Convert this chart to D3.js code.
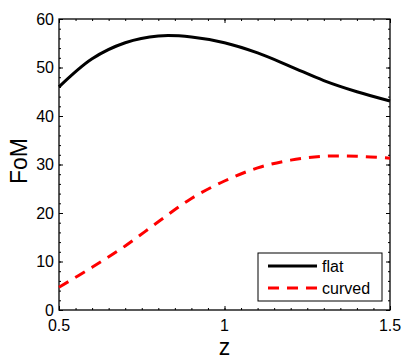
<!DOCTYPE html>
<html>
<head>
<meta charset="utf-8">
<script src="https://cdn.jsdelivr.net/npm/d3@7"></script>
<style>
  body { margin: 0; background: #fff; }
  svg text { font-family: "Liberation Sans", Arial, sans-serif; }
</style>
</head>
<body>
<div id="chart-area"></div>
<script>
// data
var zValues = [0.5, 0.6, 0.7, 0.8, 0.9, 1.0, 1.1, 1.2, 1.3, 1.4, 1.5];
var flatFoM = [46.0, 51.8, 55.1, 56.5, 56.3, 55.1, 53.0, 50.2, 47.3, 45.0, 43.1];
var curvedFoM = [4.7, 8.8, 13.2, 18.2, 23.0, 26.6, 29.3, 30.9, 31.7, 31.7, 31.3];
var seriesNames = ["flat", "curved"];
var xTicks = [0.5, 1, 1.5];
var yTicks = [0, 10, 20, 30, 40, 50, 60];

var margin = {top: 19, right: 19, bottom: 51, left: 59};
var width = 409 - margin.left - margin.right,
    height = 361 - margin.top - margin.bottom;

var x = d3.scaleLinear().domain([0.5, 1.5]).range([0, width]);
var y = d3.scaleLinear().domain([0, 60]).range([height, 0]);

var svg = d3.select("#chart-area").append("svg")
    .attr("width", 409)
    .attr("height", 361);

var g = svg.append("g")
    .attr("transform", "translate(" + margin.left + "," + margin.top + ")");

// minor ticks every 0.05 / 2, major at labelled values, on all four sides
var xMinor = d3.range(0.5, 1.5001, 0.05);
var yMinor = d3.range(0, 60.001, 2);

function tickLines(axis, vals, len) {
  return axis.tickValues(vals).tickSize(-len).tickFormat("");
}

var bottom = g.append("g").attr("transform", "translate(0," + height + ")");
bottom.call(tickLines(d3.axisBottom(x), xMinor, 2));
bottom.append("g").call(tickLines(d3.axisBottom(x), xTicks, 4));
var top_ = g.append("g");
top_.call(tickLines(d3.axisTop(x), xMinor, 2));
top_.append("g").call(tickLines(d3.axisTop(x), xTicks, 4));
var left = g.append("g");
left.call(tickLines(d3.axisLeft(y), yMinor, 2));
left.append("g").call(tickLines(d3.axisLeft(y), yTicks, 4));
var right = g.append("g").attr("transform", "translate(" + width + ",0)");
right.call(tickLines(d3.axisRight(y), yMinor, 2));
right.append("g").call(tickLines(d3.axisRight(y), yTicks, 4));

g.selectAll(".domain").remove();
g.selectAll(".tick line").attr("stroke", "#000").attr("stroke-width", 1);

g.append("rect")
    .attr("width", width)
    .attr("height", height)
    .attr("fill", "none")
    .attr("stroke", "#000")
    .attr("stroke-width", 1.3);

// tick labels
g.selectAll(".xlab").data(xTicks).enter().append("text")
    .attr("class", "xlab")
    .attr("x", function(d){ return x(d); })
    .attr("y", height + 21)
    .attr("text-anchor", "middle")
    .attr("font-size", "16px")
    .text(function(d){ return d; });

g.selectAll(".ylab").data(yTicks).enter().append("text")
    .attr("class", "ylab")
    .attr("x", -5)
    .attr("y", function(d){ return y(d) + 5.5; })
    .attr("text-anchor", "end")
    .attr("font-size", "16px")
    .text(function(d){ return d; });

// axis titles
svg.append("text")
    .attr("x", margin.left + width / 2)
    .attr("y", 355)
    .attr("text-anchor", "middle")
    .attr("font-size", "23px")
    .text("z");

svg.append("text")
    .attr("transform", "translate(27,161) rotate(-90)")
    .attr("text-anchor", "middle")
    .attr("font-size", "23px")
    .text("FoM");

// lines
var line = d3.line()
    .x(function(d){ return x(d[0]); })
    .y(function(d){ return y(d[1]); })
    .curve(d3.curveCatmullRom);

g.append("path")
    .datum(d3.zip(zValues, flatFoM))
    .attr("d", line)
    .attr("fill", "none")
    .attr("stroke", "#000")
    .attr("stroke-width", 3);

g.append("path")
    .datum(d3.zip(zValues, curvedFoM))
    .attr("d", line)
    .attr("fill", "none")
    .attr("stroke", "#ff0000")
    .attr("stroke-width", 3)
    .attr("stroke-dasharray", "11,8");

// legend
var legend = svg.append("g").attr("transform", "translate(258,253)");
legend.append("rect")
    .attr("width", 124)
    .attr("height", 48)
    .attr("fill", "#fff")
    .attr("stroke", "#000")
    .attr("stroke-width", 1);

legend.selectAll(".legline").data(seriesNames).enter().append("line")
    .attr("class", "legline")
    .attr("x1", 10).attr("x2", 59)
    .attr("y1", function(d, i){ return 13 + i * 22; })
    .attr("y2", function(d, i){ return 13 + i * 22; })
    .attr("stroke", function(d, i){ return i == 0 ? "#000" : "#ff0000"; })
    .attr("stroke-width", 3)
    .attr("stroke-dasharray", function(d, i){ return i == 0 ? null : "11,8"; });

legend.selectAll(".legtext").data(seriesNames).enter().append("text")
    .attr("class", "legtext")
    .attr("x", 64)
    .attr("y", function(d, i){ return 19 + i * 22; })
    .attr("font-size", "16px")
    .text(function(d){ return d; });
</script>
</body>
</html>
